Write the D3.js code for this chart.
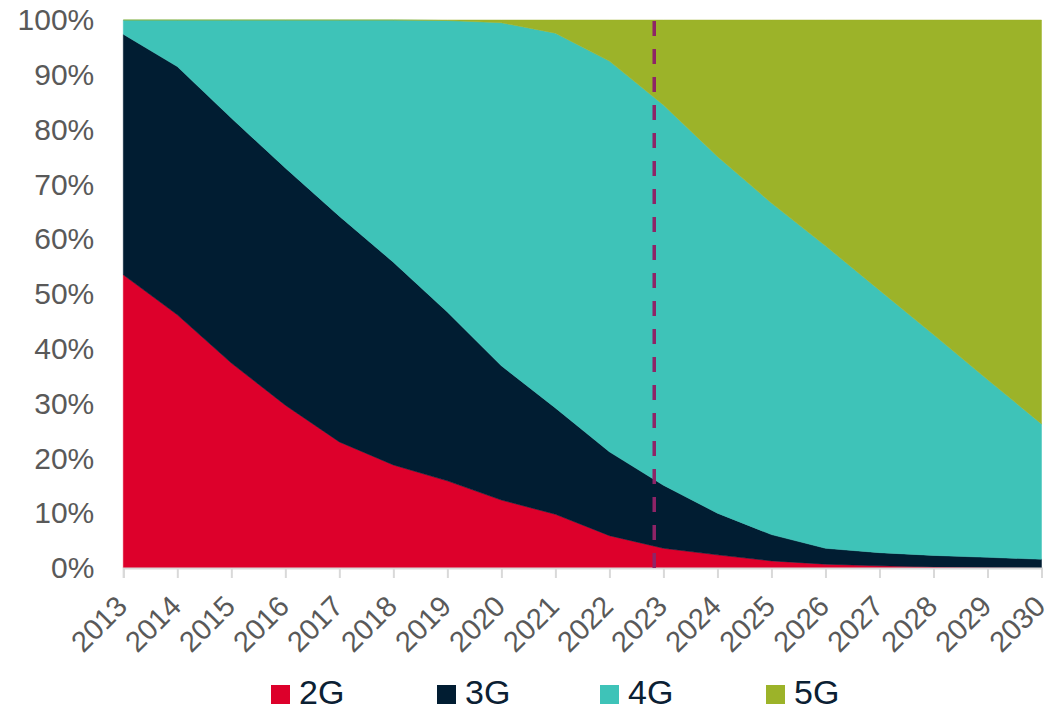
<!DOCTYPE html>
<html>
<head>
<meta charset="utf-8">
<script src="https://cdn.jsdelivr.net/npm/d3@7"></script>
<style>
  html, body { margin: 0; padding: 0; background: #fff; }
  svg { display: block; font-family: "Liberation Sans", Arial, sans-serif; }
</style>
</head>
<body>
<svg id="chart" width="1054" height="710"></svg>
<script>
// Share of mobile connections by technology, 2013–2030 (percent)
const years = [2013, 2014, 2015, 2016, 2017, 2018, 2019, 2020, 2021, 2022, 2023, 2024, 2025, 2026, 2027, 2028, 2029, 2030];
const share2G = [53.5, 46.2, 37.4, 29.7, 23.0, 18.8, 15.9, 12.4, 9.8, 5.9, 3.6, 2.4, 1.3, 0.7, 0.4, 0.2, 0.1, 0.0];
const share3G = [43.9, 45.3, 44.7, 43.3, 41.2, 37.0, 30.8, 24.5, 19.4, 15.3, 11.5, 7.6, 4.8, 2.9, 2.4, 2.1, 1.85, 1.6];
const share4G = [2.6, 8.5, 17.9, 27.0, 35.8, 44.2, 53.2, 62.6, 68.4, 71.3, 69.4, 65.1, 60.5, 55.2, 47.9, 40.3, 32.45, 24.7];
const share5G = [0, 0, 0, 0, 0, 0, 0.1, 0.5, 2.4, 7.5, 15.5, 24.9, 33.4, 41.2, 49.3, 57.4, 65.6, 73.7];
const seriesNames = ["2G", "3G", "4G", "5G"];
const seriesColors = ["#DD002B", "#011D32", "#3EC3B8", "#9CB329"];
const yTicks = [0, 10, 20, 30, 40, 50, 60, 70, 80, 90, 100];
const forecastStart = 2022.83;

const svg = d3.select("#chart");
const margin = { left: 123.3, right: 12.5, top: 20, bottom: 142 };
const W = 1054, H = 710;

const x = d3.scaleLinear().domain([2013, 2030]).range([margin.left, W - margin.right]);
const y = d3.scaleLinear().domain([0, 100]).range([H - margin.bottom, margin.top]);

const rows = years.map((yr, i) => ({
  year: yr, "2G": share2G[i], "3G": share3G[i], "4G": share4G[i], "5G": share5G[i]
}));
const stacked = d3.stack().keys(seriesNames)(rows);

// lower layers follow the stack; the top layer is closed at 100%
const area = d3.area()
  .x(d => x(d.data.year))
  .y0(d => y(d[0]))
  .y1(d => y(Math.min(100, d[1])))
  .curve(d3.curveLinear);
const topArea = d3.area()
  .x(d => x(d.data.year))
  .y0(d => y(d[0]))
  .y1(y(100))
  .curve(d3.curveLinear);

svg.append("g").selectAll("path")
  .data(stacked)
  .join("path")
  .attr("d", s => s.key === "5G" ? topArea(s) : area(s))
  .attr("fill", (s, i) => seriesColors[i])
  .attr("stroke", (s, i) => seriesColors[i])
  .attr("stroke-width", 0.5);

// x axis
const xAxis = svg.append("g")
  .attr("transform", `translate(0,${y(0)})`)
  .call(d3.axisBottom(x).tickValues(years).tickFormat(d3.format("d")).tickSize(10).tickPadding(0));
xAxis.select(".domain").attr("stroke", "#D9D9D9").attr("stroke-width", 2);
xAxis.selectAll(".tick line").attr("stroke", "#D9D9D9").attr("stroke-width", 2);
xAxis.selectAll(".tick text")
  .attr("fill", "#595959")
  .attr("font-size", 29)
  .attr("text-anchor", "end")
  .attr("dy", 0)
  .attr("y", 0)
  .attr("transform", "translate(-2,33) rotate(-45)")
  .attr("dominant-baseline", "central");

// y axis
const yAxis = svg.append("g")
  .attr("transform", `translate(${margin.left},0)`)
  .call(d3.axisLeft(y).tickValues(yTicks).tickFormat(d => d + "%").tickSize(0).tickPadding(29));
yAxis.select(".domain").remove();
yAxis.selectAll(".tick text")
  .attr("fill", "#595959")
  .attr("font-size", 30);

// forecast divider
svg.append("line")
  .attr("x1", x(forecastStart)).attr("x2", x(forecastStart))
  .attr("y1", 17).attr("y2", 579)
  .attr("stroke", "#8E2467")
  .attr("stroke-width", 3.5)
  .attr("stroke-dasharray", "15,13")
  .attr("stroke-dashoffset", -4);

// legend
const legendX = [271, 437, 600, 766];
const legend = svg.append("g").selectAll("g")
  .data(seriesNames)
  .join("g")
  .attr("transform", (d, i) => `translate(${legendX[i]},685)`);
legend.append("rect")
  .attr("width", 19).attr("height", 19)
  .attr("fill", (d, i) => seriesColors[i]);
legend.append("text")
  .attr("x", 28).attr("y", 18.5)
  .attr("font-size", 34)
  .attr("fill", "#0B2033")
  .text(d => d);
</script>
</body>
</html>
